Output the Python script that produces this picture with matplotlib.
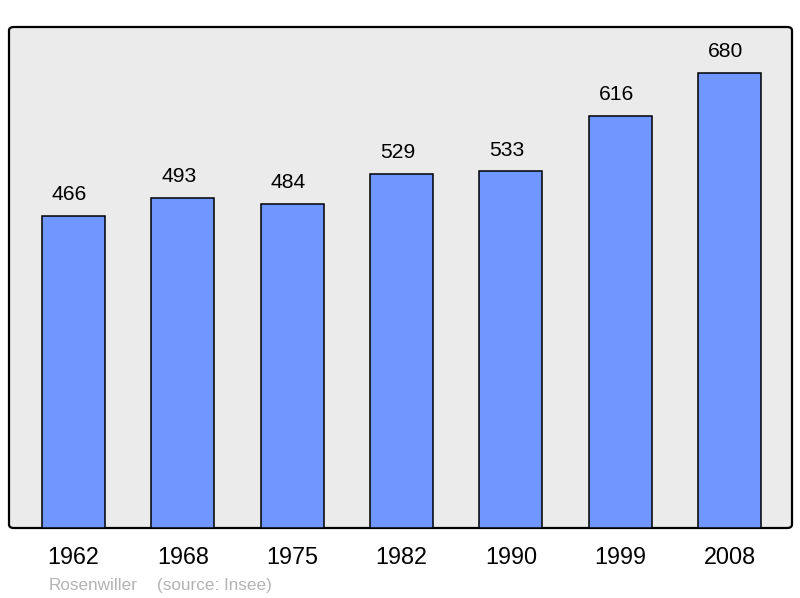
import matplotlib.pyplot as plt
from matplotlib.patches import FancyBboxPatch

# Population of Rosenwiller (source: Insee)
years = ['1962', '1968', '1975', '1982', '1990', '1999', '2008']
population = [466, 493, 484, 529, 533, 616, 680]

plt.rcParams['font.family'] = ['Liberation Sans', 'DejaVu Sans']

fig = plt.figure(figsize=(8, 5.98), dpi=100)
ax = fig.add_axes([9 / 800, 1 - 528 / 598, 783 / 800, 501 / 598])
ax.set_facecolor('none')

# rounded frame behind the axes
frame = FancyBboxPatch((9 / 800, 1 - 528 / 598), 783 / 800, 501 / 598,
                       boxstyle='round,pad=0,rounding_size=0.006',
                       transform=fig.transFigure, facecolor='#ebebeb',
                       edgecolor='black', linewidth=1.6, zorder=-5)
fig.patches.append(frame)

x = range(len(years))
ax.bar(x, population, width=0.576, color='#7096ff', edgecolor='black',
       linewidth=1.1, zorder=2)
for xi, v in zip(x, population):
    ax.annotate(str(v), (xi, v), xytext=(-3, 8.5), textcoords='offset points',
                ha='center', va='bottom', fontsize=15.2)

ax.set_xlim(-0.59, 6.57)
ax.set_ylim(0, 749)
ax.set_xticks(list(x))
ax.set_xticklabels(years, fontsize=16.8)
ax.tick_params(axis='x', length=0, pad=12.8)
ax.set_yticks([])
for s in ax.spines.values():
    s.set_visible(False)

fig.text(49 / 800, 1 - 585.5 / 598, 'Rosenwiller',
         color='#b3b3b3', fontsize=12.3, va='center', ha='left')
fig.text(157 / 800, 1 - 585.5 / 598, '(source: Insee)',
         color='#b3b3b3', fontsize=12.3, va='center', ha='left')

fig.savefig('out.png', dpi=100)
